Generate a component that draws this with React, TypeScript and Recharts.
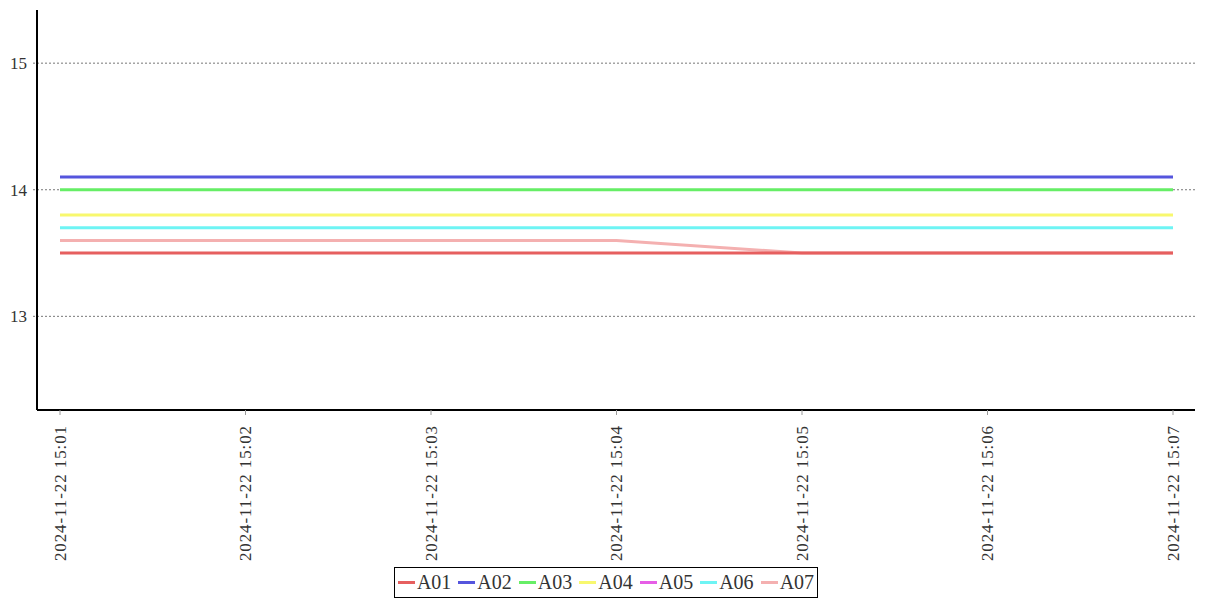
import { LineChart, Line, XAxis, YAxis, CartesianGrid, Legend } from 'recharts';

const times = [
  '2024-11-22 15:01',
  '2024-11-22 15:02',
  '2024-11-22 15:03',
  '2024-11-22 15:04',
  '2024-11-22 15:05',
  '2024-11-22 15:06',
  '2024-11-22 15:07',
];

const a01 = [13.5, 13.5, 13.5, 13.5, 13.5, 13.5, 13.5];
const a02 = [14.1, 14.1, 14.1, 14.1, 14.1, 14.1, 14.1];
const a03 = [14.0, 14.0, 14.0, 14.0, 14.0, 14.0, 14.0];
const a04 = [13.8, 13.8, 13.8, 13.8, 13.8, 13.8, 13.8];
const a05: (number | null)[] = [null, null, null, null, null, null, null];
const a06 = [13.7, 13.7, 13.7, 13.7, 13.7, 13.7, 13.7];
const a07 = [13.6, 13.6, 13.6, 13.6, 13.5, 13.5, 13.5];

const seriesNames = ['A01', 'A02', 'A03', 'A04', 'A05', 'A06', 'A07'];
const seriesValues = [a01, a02, a03, a04, a05, a06, a07];
const seriesColors = ['#e65f5f', '#5555dd', '#66ee66', '#f8f86e', '#e65ee6', '#6ef4f4', '#f4b0b0'];

const yTicks = [13, 14, 15];

const FONT = '"Liberation Serif", "DejaVu Serif", serif';

// build rows for recharts
const data = times.map((t, i) => {
  const row: any = { time: t };
  seriesNames.forEach((name, s) => {
    row[name] = seriesValues[s][i];
  });
  return row;
});

const TimeTick = ({ x, y, payload }: any) => (
  <text
    x={x}
    y={y + 8}
    dy="0.33em"
    transform={`rotate(-90, ${x}, ${y + 8})`}
    textAnchor="end"
    fontFamily={FONT}
    fontSize={17}
    letterSpacing={0.9}
    fill="#333"
  >
    {payload.value}
  </text>
);

const LegendBox = () => (
  <div style={{ display: 'flex', justifyContent: 'center', paddingLeft: 9 }}>
    <div
      style={{
        display: 'inline-flex',
        alignItems: 'center',
        border: '1px solid #000',
        padding: '2px 3px 2px 3px',
        background: '#fff',
        fontFamily: FONT,
        fontSize: 20,
        color: '#333',
        lineHeight: '25px',
      }}
    >
      {seriesNames.map((name, i) => (
        <span key={name} style={{ display: 'inline-flex', alignItems: 'center', marginRight: i < seriesNames.length - 1 ? 7 : 0 }}>
          <span style={{ display: 'inline-block', width: 17, height: 3, background: seriesColors[i], marginRight: 2 }} />
          <span>{name}</span>
        </span>
      ))}
    </div>
  </div>
);

export default function App() {
  // draw in reverse so A01 sits on top of A07 where they overlap
  const drawOrder = seriesNames.map((_, i) => i).reverse();

  return (
    <div style={{ width: 1199, height: 592 }}>
      <LineChart width={1199} height={592} data={data} margin={{ top: 2, right: 12, left: 0, bottom: 0 }}>
        <CartesianGrid vertical={false} horizontalValues={yTicks} stroke="#777" strokeDasharray="2 2" />
        <XAxis
          dataKey="time"
          interval={0}
          height={157}
          padding={{ left: 23, right: 22 }}
          axisLine={{ stroke: '#000', strokeWidth: 2 }}
          tickLine={{ stroke: '#999' }}
          tickSize={5}
          tick={<TimeTick />}
        />
        <YAxis
          width={29}
          domain={[12.26, 15.42]}
          ticks={yTicks}
          allowDataOverflow
          axisLine={{ stroke: '#000', strokeWidth: 2 }}
          tickLine={{ stroke: '#777', strokeDasharray: '2 2' }}
          tickSize={4}
          tickMargin={6}
          tick={{ fontFamily: FONT, fontSize: 17, fill: '#333' }}
        />
        <Legend verticalAlign="bottom" height={33} content={<LegendBox />} />
        {drawOrder.map((i) => (
          <Line
            key={seriesNames[i]}
            type="linear"
            dataKey={seriesNames[i]}
            stroke={seriesColors[i]}
            strokeWidth={3}
            dot={false}
            activeDot={false}
            isAnimationActive={false}
          />
        ))}
      </LineChart>
    </div>
  );
}
